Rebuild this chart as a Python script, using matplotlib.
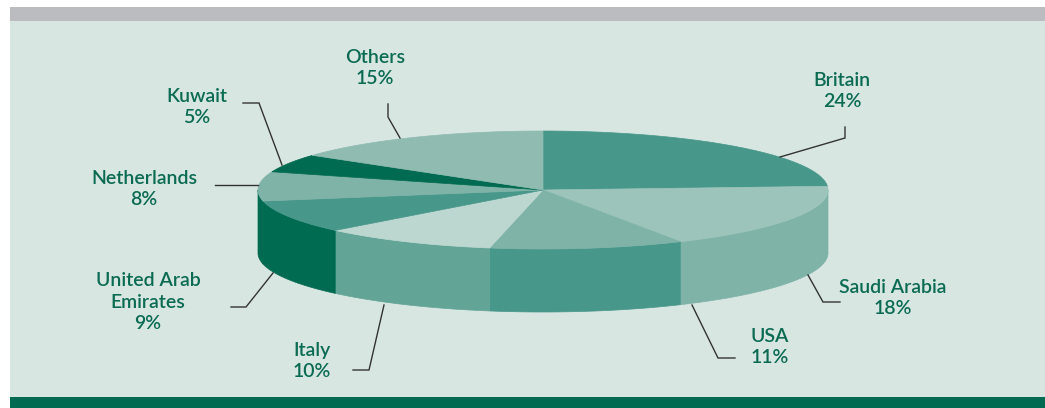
import numpy as np
import matplotlib
matplotlib.use('Agg')
import matplotlib.pyplot as plt
from matplotlib.patches import Polygon, Rectangle

# export shares by destination, clockwise from 12 o'clock
countries = ['Britain', 'Saudi Arabia', 'USA', 'Italy', 'United Arab\nEmirates',
             'Netherlands', 'Kuwait', 'Others']
shares = [24, 18, 11, 10, 9, 8, 5, 15]

top_colors = ['#47978a', '#9cc4bb', '#80b3a8', '#bcd7d0', '#47978a',
              '#80b3a8', '#006b50', '#8fbbb1']
side_colors = ['#47978a', '#80b3a8', '#47978a', '#62a597', '#006b50',
               '#006b50', '#006b50', '#8fbbb1']

# label block centre and leader line path, in pixels
label_pos = [(842, 91), (893, 298), (770, 347), (312, 361), (148, 302),
             (144, 189), (197, 107), (375, 68)]
leaders = [
    [(780, 157), (845, 138), (845, 127)],
    [(808, 275), (823, 302), (840, 302)],
    [(692, 305), (718, 358), (735, 358)],
    [(384, 305), (369, 370), (353, 370)],
    [(273, 273), (246, 307), (231, 307)],
    [(258, 185), (215, 185)],
    [(282, 165), (259, 103), (243, 103)],
    [(400, 138), (388, 117), (388, 104)],
]

W, H = 1045, 408
fig = plt.figure(figsize=(W / 100, H / 100), dpi=100)
ax = fig.add_axes([0, 0, 1, 1])
ax.set_xlim(0, W)
ax.set_ylim(H, 0)
ax.axis('off')
fig.patch.set_facecolor('white')

# frame: grey strip on top, dark green strip at the bottom
ax.add_patch(Rectangle((10, 21), W - 10, 376, color='#d8e6e2', lw=0))
ax.add_patch(Rectangle((10, 7), W - 10, 14, color='#bbbcc0', lw=0))
ax.add_patch(Rectangle((10, 397), W - 10, 11, color='#006b50', lw=0))

cx, cy, rx, ry, depth = 543, 190, 285, 59, 63


def ellipse_pts(t1, t2, dy=0, n=200):
    t = np.linspace(t1, t2, n)
    return np.column_stack([cx + rx * np.cos(t), cy - ry * np.sin(t) + dy])


fracs = np.array(shares) / sum(shares)
edges = np.pi / 2 - 2 * np.pi * np.concatenate([[0], np.cumsum(fracs)])

# front side walls (only the part in [-pi, 0] faces the viewer)
for i in range(len(shares)):
    a1, a2 = edges[i], edges[i + 1]
    for shift in (0, -2 * np.pi, 2 * np.pi):
        lo = max(min(a1, a2) + shift, -np.pi)
        hi = min(max(a1, a2) + shift, 0)
        if hi > lo:
            upper = ellipse_pts(lo, hi)
            lower = ellipse_pts(hi, lo, dy=depth)
            ax.add_patch(Polygon(np.vstack([upper, lower]), closed=True,
                                 facecolor=side_colors[i], edgecolor=side_colors[i],
                                 lw=0.5))

# top face
for i in range(len(shares)):
    pts = np.vstack([[[cx, cy]], ellipse_pts(edges[i], edges[i + 1])])
    ax.add_patch(Polygon(pts, closed=True, facecolor=top_colors[i],
                         edgecolor=top_colors[i], lw=0.5))

# labels and leader lines
for name, val, (lx, ly), path in zip(countries, shares, label_pos, leaders):
    p = np.array(path)
    ax.plot(p[:, 0], p[:, 1], color='#333333', lw=1.0, solid_joinstyle='miter')
    ax.text(lx, ly, f'{name}\n{val}%', ha='center', va='center',
            fontsize=14, fontweight='semibold', color='#0a6b52', family='Lato',
            linespacing=1.3)

fig.savefig('out.png', dpi=100)
